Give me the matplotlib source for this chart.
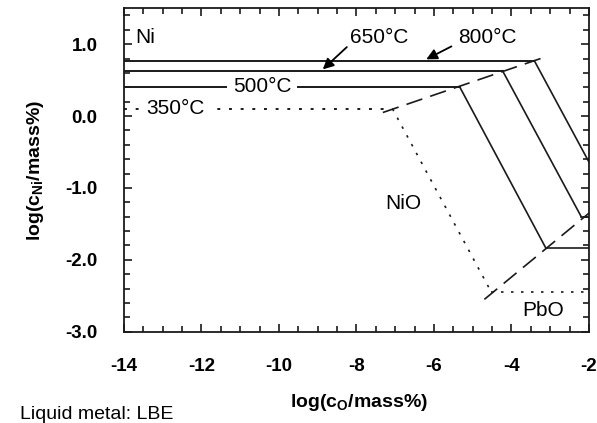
import matplotlib.pyplot as plt

plt.rcParams['font.family'] = ['Liberation Sans', 'DejaVu Sans']
plt.rcParams['mathtext.fontset'] = 'custom'
plt.rcParams['mathtext.rm'] = 'Liberation Sans'
plt.rcParams['mathtext.bf'] = 'Liberation Sans:bold'
plt.rcParams['axes.unicode_minus'] = False

# Ni solubility (upper horizontals) and the Ni/NiO corners
temps = ['350°C', '500°C', '650°C', '800°C']
ni_sat = [0.10, 0.41, 0.63, 0.77]
o_corner = [-7.07, -5.34, -4.23, -3.41]
# lower end of the NiO lines (slope -1)
o_low = [-4.52, -3.11, -2.20, -2.0]
ni_low = [-2.45, -1.84, -1.40, -0.64]

# dashed boundaries joining the corners
upper_o = [-7.32, -3.20]
upper_ni = [0.05, 0.81]
lower_o = [-4.70, -2.0]
lower_ni = [-2.55, -1.35]

xmin, xmax = -14, -2
lc = '#1a1a1a'
dotted = (0, (1.5, 4.5))
dashed = (0, (10, 5))
styles = [dotted, '-', '-', '-']

fig = plt.figure(figsize=(5.97, 4.23), dpi=100)
ax = fig.add_axes([0.2077, 0.2158, 0.7789, 0.7646])

for i in range(len(temps)):
    ax.plot([xmin, o_corner[i]], [ni_sat[i], ni_sat[i]], ls=styles[i], color=lc, lw=1.4)
    ax.plot([o_corner[i], o_low[i]], [ni_sat[i], ni_low[i]], ls=styles[i], color=lc, lw=1.2)
    if o_low[i] < xmax:
        ax.plot([o_low[i], xmax], [ni_low[i], ni_low[i]], ls=styles[i], color=lc, lw=1.2)

ax.plot(upper_o, upper_ni, ls=dashed, color=lc, lw=1.2)
ax.plot(lower_o, lower_ni, ls=dashed, color=lc, lw=1.2)

fs = 15
ax.text(-13.72, 1.09, 'Ni', fontsize=fs, va='center')
ax.text(-8.18, 1.09, '650°C', fontsize=fs, va='center')
ax.text(-5.39, 1.09, '800°C', fontsize=fs, va='center')
ax.text(-10.44, ni_sat[1], '500°C', fontsize=fs, ha='center', va='center',
        bbox=dict(fc='white', ec='none', pad=4))
ax.text(-12.66, ni_sat[0], '350°C', fontsize=fs, ha='center', va='center',
        bbox=dict(fc='white', ec='none', pad=3))
ax.text(-6.78, -1.21, 'NiO', fontsize=fs, ha='center', va='center')
ax.text(-3.18, -2.70, 'PbO', fontsize=fs, ha='center', va='center')

arrow = dict(arrowstyle='-|>', mutation_scale=16, color='k', lw=1.3,
             shrinkA=0, shrinkB=0)
ax.annotate('', xy=(-8.87, 0.65), xytext=(-8.25, 0.96), arrowprops=arrow)
ax.annotate('', xy=(-6.20, 0.79), xytext=(-5.55, 0.97), arrowprops=arrow)

ax.set_xlim(xmin, xmax)
ax.set_ylim(-3.0, 1.5)
ax.set_xticks(range(-14, -1, 2))
ax.set_xticks([x / 2 for x in range(-28, -3)], minor=True)
ax.set_yticks([-3.0, -2.0, -1.0, 0.0, 1.0])
ax.set_yticks([y / 5 for y in range(-15, 8)], minor=True)
ax.set_yticklabels(['-3.0', '-2.0', '-1.0', '0.0', '1.0'])
ax.tick_params(which='both', direction='in', top=True, right=True,
               labelsize=13.5, pad=19, width=1.2, color=lc)
ax.tick_params(which='major', length=6)
ax.tick_params(which='minor', length=4)
for lab in ax.get_xticklabels() + ax.get_yticklabels():
    lab.set_fontweight('bold')
for s in ax.spines.values():
    s.set_linewidth(1.3)
    s.set_color(lc)

ax.set_xlabel(r'log(c$_\mathbf{O}$/mass%)', fontsize=14, fontweight='bold')
ax.set_ylabel(r'log(c$_\mathbf{Ni}$/mass%)', fontsize=14, fontweight='bold')
ax.xaxis.set_label_coords(0.505, -0.185)
ax.yaxis.set_label_coords(-0.168, 0.5)

fig.text(20 / 597, 9 / 423, 'Liquid metal: LBE', fontsize=14, va='center')

fig.savefig('out.png', dpi=100)
